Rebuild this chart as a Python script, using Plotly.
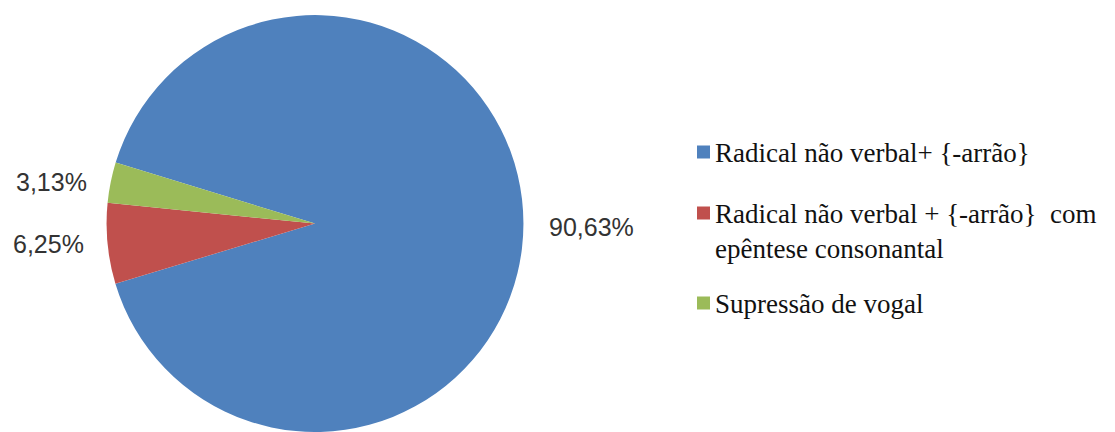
import math
import plotly.graph_objects as go

# Share of each word-formation process (percent)
categories = [
    "Radical não verbal+ {-arrão}",
    "Radical não verbal + {-arrão}  com<br>epêntese consonantal",
    "Supressão de vogal",
]
shares = [90.63, 6.25, 3.13]
colors = ["#4F81BD", "#C0504D", "#9BBB59"]

labels_txt = [f"{v:.2f}".replace(".", ",") + "%" for v in shares]

W, H = 1115, 432
ROTATION = 287
dom_y = [0.0, 0.965]
r_px = (dom_y[1] - dom_y[0]) * H / 2
dom_x = [(315 - r_px) / W, (315 + r_px) / W]

fig = go.Figure()
fig.add_trace(go.Pie(
    labels=categories,
    values=shares,
    text=labels_txt,
    textinfo="none",
    marker=dict(colors=colors, line=dict(width=0)),
    sort=False,
    direction="clockwise",
    rotation=ROTATION,
    showlegend=False,
    hoverinfo="label+text",
    domain=dict(x=dom_x, y=dom_y),
))

# Percentage labels placed just outside each slice, at its mid angle
cx = (dom_x[0] + dom_x[1]) / 2
cy = (dom_y[0] + dom_y[1]) / 2
radius_px = min((dom_x[1] - dom_x[0]) * W, (dom_y[1] - dom_y[0]) * H) / 2
total = sum(shares)
cum = 0.0
for v, txt in zip(shares, labels_txt):
    mid_cw = ROTATION + 360 * (cum + v / 2) / total
    cum += v
    theta = math.radians(90 - mid_cw)
    dx, dy = math.cos(theta), math.sin(theta)
    right_side = dx >= 0
    fig.add_annotation(
        xref="paper", yref="paper",
        x=cx + radius_px * dx / W, y=cy + radius_px * dy / H,
        xanchor="left" if right_side else "right", yanchor="middle",
        xshift=24 if right_side else -22, yshift=-3 if right_side else 0,
        text=txt, showarrow=False,
        font=dict(family="Liberation Sans", size=25, color="#333333"),
    )

# Legend drawn as swatches plus serif labels
legend_y = [152, 213, 303]  # row centres in pixels from the top
for name, col, yc in zip(categories, colors, legend_y):
    fig.add_shape(
        type="rect", xref="paper", yref="paper",
        x0=697 / W, x1=710 / W,
        y0=1 - (yc + 6.5) / H, y1=1 - (yc - 6.5) / H,
        fillcolor=col, line=dict(width=0),
    )
    fig.add_annotation(
        xref="paper", yref="paper",
        x=713 / W, y=1 - (yc - 16) / H,
        xanchor="left", yanchor="top", align="left",
        text=name, showarrow=False,
        font=dict(family="Liberation Serif", size=27, color="#111111"),
    )

fig.update_layout(
    width=W, height=H,
    margin=dict(l=0, r=0, t=0, b=0),
    paper_bgcolor="white",
    plot_bgcolor="white",
)

fig.write_html("out.html")
